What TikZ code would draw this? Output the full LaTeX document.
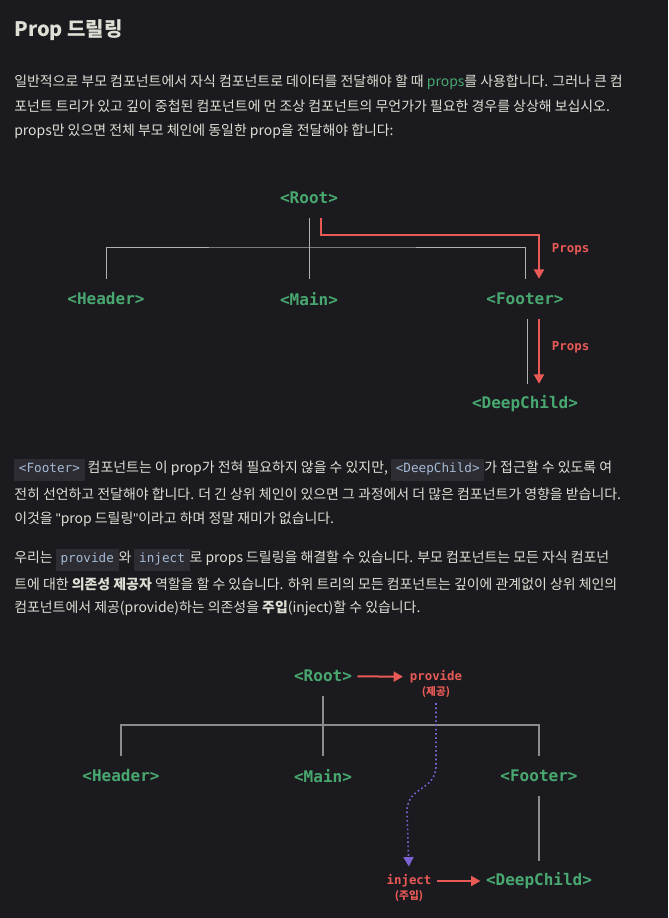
\documentclass[tikz,border=0pt]{standalone}
\usepackage{fontspec}
\setmainfont{Noto Sans CJK KR}[Ligatures=ResetAll]
\newfontfamily\monof{DejaVu Sans Mono}
\newfontfamily\quotef{Liberation Sans}[Ligatures=ResetAll]
\usetikzlibrary{positioning,arrows.meta}
\definecolor{pagebg}{HTML}{1B1B1F}
\definecolor{bodytext}{HTML}{DFDFD6}
\definecolor{vgreen}{HTML}{48A870}
\definecolor{vred}{HTML}{E85A55}
\definecolor{vpurple}{HTML}{7D62D6}
\definecolor{treegray}{HTML}{B0B0B0}
\definecolor{treegrayb}{HTML}{8C8C8C}
\definecolor{codebg}{HTML}{2C2C32}
\definecolor{codefg}{HTML}{A6BAD6}
\newcommand\inl[1]{{\setlength{\fboxsep}{3.5pt}\colorbox{codebg}{\monof\fontsize{9.5}{9.5}\selectfont\color{codefg}\strut #1}}}
\newcommand\sq{{\quotef\symbol{"22}}}

\begin{document}
\begin{tikzpicture}[x=0.75pt, y=-0.75pt,
	txt/.style={anchor=west,inner sep=0pt,text=bodytext,font=\fontsize{10.45}{12}\selectfont},
	comp/.style={text=vgreen,font=\monof\bfseries\fontsize{12}{14}\selectfont,
	minimum height=30pt,inner sep=2pt},
	lbl/.style={text=vred,font=\monof\bfseries\fontsize{9.3}{11}\selectfont,inner sep=2pt},
	lblk/.style={text=vred,font=\bfseries\fontsize{8}{10}\selectfont,inner sep=1pt},
	tline/.style={draw=treegray,line width=0.75pt},
	tlineb/.style={draw=treegrayb,line width=1.1pt},
	pline/.style={draw=vred,line width=1.5pt,-{Triangle[length=7pt,width=7.5pt]}},
	dline/.style={draw=vpurple,line width=1.2pt,dotted,-{Triangle[length=7pt,width=7.5pt]}}]
\fill[pagebg] (0,0) rectangle (668,918);
\useasboundingbox (0,0) rectangle (668,918);

\node[anchor=west,inner sep=0pt,text=bodytext,font=\fontsize{15}{18}\selectfont\bfseries] (title) at (14,30) {Prop 드릴링};

\node[txt] (p1a) at (14,82) {일반적으로 부모 컴포넌트에서 자식 컴포넌트로 데이터를 전달해야 할 때 {\color{vgreen}props}를 사용합니다. 그러나 큰 컴};
\node[txt] (p1b) at (14,106) {포넌트 트리가 있고 깊이 중첩된 컴포넌트에 먼 조상 컴포넌트의 무언가가 필요한 경우를 상상해 보십시오.};
\node[txt] (p1c) at (14,131) {props만 있으면 전체 부모 체인에 동일한 prop을 전달해야 합니다:};

\node[comp] (root1) at (309,198) {<Root>};
\node[comp] (head1) at (106,299) {<Header>};
\node[comp] (main1) at (309,299) {<Main>};
\node[comp] (foot1) at (525,299) {<Footer>};
\node[comp] (deep1) at (525,404) {<DeepChild>};
\coordinate (bus1) at (309,247);
\coordinate (turn1) at (539,235);
\draw[tline] (root1) -- (main1);
\draw[tline] (head1.north) |- (bus1) -| (foot1.north);
\draw[pline] ([xshift=9pt]root1.south) |- (turn1) -- ([xshift=10.5pt]foot1.north);
\node[lbl,anchor=west] (props1) at (549,249) {Props};
\draw[tline] ([xshift=1.5pt]foot1.south) -- ([xshift=1.5pt]deep1.north);
\draw[pline] ([xshift=10.5pt]foot1.south) -- ([xshift=10.5pt]deep1.north);
\node[lbl,anchor=west] (props2) at (549,347) {Props};

\node[txt] (p2a) at (14,470) {\inl{<Footer>} 컴포넌트는 이 prop가 전혀 필요하지 않을 수 있지만, \inl{<DeepChild>}가 접근할 수 있도록 여};
\node[txt] (p2b) at (14,494) {전히 선언하고 전달해야 합니다. 더 긴 상위 체인이 있으면 그 과정에서 더 많은 컴포넌트가 영향을 받습니다.};
\node[txt] (p2c) at (14,519) {이것을 \sq prop 드릴링\sq 이라고 하며 정말 재미가 없습니다.};

\node[txt] (p3a) at (14,560) {우리는 \inl{provide}와 \inl{inject}로 props 드릴링을 해결할 수 있습니다. 부모 컴포넌트는 모든 자식 컴포넌};
\node[txt] (p3b) at (14,584) {트에 대한 {\bfseries 의존성 제공자} 역할을 할 수 있습니다. 하위 트리의 모든 컴포넌트는 깊이에 관계없이 상위 체인의};
\node[txt] (p3c) at (14,608) {컴포넌트에서 제공(provide)하는 의존성을 {\bfseries 주입}(inject)할 수 있습니다.};

\node[comp] (root2) at (323,676) {<Root>};
\node[lbl] (prov) at (436,677) {provide};
\node[lblk] (provk) at (436,692) {(제공)};
\node[comp] (head2) at (121,776) {<Header>};
\node[comp] (main2) at (323,776) {<Main>};
\node[comp] (foot2) at (539,776) {<Footer>};
\node[comp] (deep2) at (539,881) {<DeepChild>};
\node[lbl] (inj) at (409,881) {inject};
\node[lblk] (injk) at (409,896) {(주입)};
\coordinate (bus2) at (323,725);
\coordinate (bend2a) at (436,765);
\coordinate (bend2b) at (407,812);
\draw[pline,shorten <=2pt,shorten >=3pt] (root2) -- (prov);
\draw[tlineb] (root2) -- (main2);
\draw[tlineb] (head2.north) |- (bus2) -| (foot2.north);
\draw[tlineb] (foot2) -- (deep2);
\draw[dline,shorten <=3pt,shorten >=4pt] (provk.south) -- (bend2a) .. controls (436,792) and (407,785) .. (bend2b) -- (inj.north);
\draw[pline,shorten <=2pt,shorten >=2pt] (inj) -- (deep2);
\end{tikzpicture}
\end{document}
